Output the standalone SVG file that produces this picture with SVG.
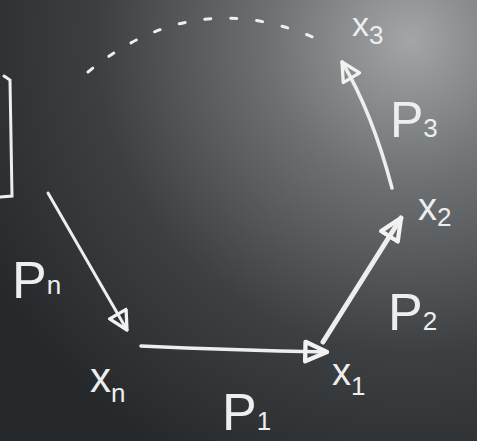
<svg xmlns="http://www.w3.org/2000/svg" width="477" height="441" viewBox="0 0 477 441">
<defs>
<radialGradient id="board" cx="410" cy="40" r="480" gradientUnits="userSpaceOnUse">
<stop offset="0" stop-color="#a2a6a7"/>
<stop offset="0.3" stop-color="#6c7072"/>
<stop offset="0.65" stop-color="#3c4042"/>
<stop offset="1" stop-color="#26292b"/>
</radialGradient>
<marker id="tri" viewBox="0 0 12 12" refX="11" refY="6" markerWidth="22" markerHeight="22" markerUnits="userSpaceOnUse" orient="auto">
<path d="M1,0.8 L11,6 L1,11.2 Z" fill="none" stroke="#f2f2f2" stroke-width="1.8" stroke-linejoin="round"/>
</marker>
<marker id="triB" viewBox="0 0 12 12" refX="11" refY="6" markerWidth="26" markerHeight="26" markerUnits="userSpaceOnUse" orient="auto">
<path d="M1,1.5 L11,6 L1,10.5 Z" fill="none" stroke="#f2f2f2" stroke-width="2" stroke-linejoin="round"/>
</marker>
</defs>
<style>
.chalk{fill:none;stroke:#eeeeee;stroke-linecap:round}
.lbl{fill:#eeeeee;font-family:"Liberation Sans","DejaVu Sans",sans-serif}
.sub{font-size:26px}
</style>
<rect width="477" height="441" fill="url(#board)"/>
<path class="chalk" d="M4,76 L10,80 L12,196 L0,197" stroke-width="3"/>
<g id="connectors">
<path class="chalk" d="M48,193 L127,330" stroke-width="3" marker-end="url(#tri)"/>
<path class="chalk" d="M141,346 Q230,350 327,352" stroke-width="3.5" marker-end="url(#triB)"/>
<path class="chalk" d="M323,342 L401,218" stroke-width="5" marker-end="url(#triB)"/>
<path class="chalk" d="M392,188 Q372,112 342,62" stroke-width="3.5" marker-end="url(#tri)"/>
<path class="chalk" d="M88,72 Q200,-20 330,45" stroke-width="3" stroke-dasharray="6,20"/>
</g>
<g id="node-xn">
<text class="lbl" x="90" y="392" font-size="42">x<tspan class="sub" dy="10">n</tspan></text>
</g>
<g id="node-x1">
<text class="lbl" x="332" y="385" font-size="38">x<tspan class="sub" dy="10">1</tspan></text>
</g>
<g id="node-x2">
<text class="lbl" x="418" y="220" font-size="38">x<tspan class="sub" dy="6">2</tspan></text>
</g>
<g id="node-x3">
<text class="lbl" x="352" y="36" font-size="34">x<tspan class="sub" dy="8" font-size="22">3</tspan></text>
</g>
<g id="labels">
<text class="lbl" x="12" y="298" font-size="52">P<tspan class="sub" dy="-4" font-size="30">n</tspan></text>
<text class="lbl" x="222" y="430" font-size="52">P<tspan class="sub" dy="0" font-size="32">1</tspan></text>
<text class="lbl" x="388" y="330" font-size="52">P<tspan class="sub" dy="0" font-size="32">2</tspan></text>
<text class="lbl" x="390" y="137" font-size="50">P<tspan class="sub" dy="0" font-size="32">3</tspan></text>
</g>
</svg>
